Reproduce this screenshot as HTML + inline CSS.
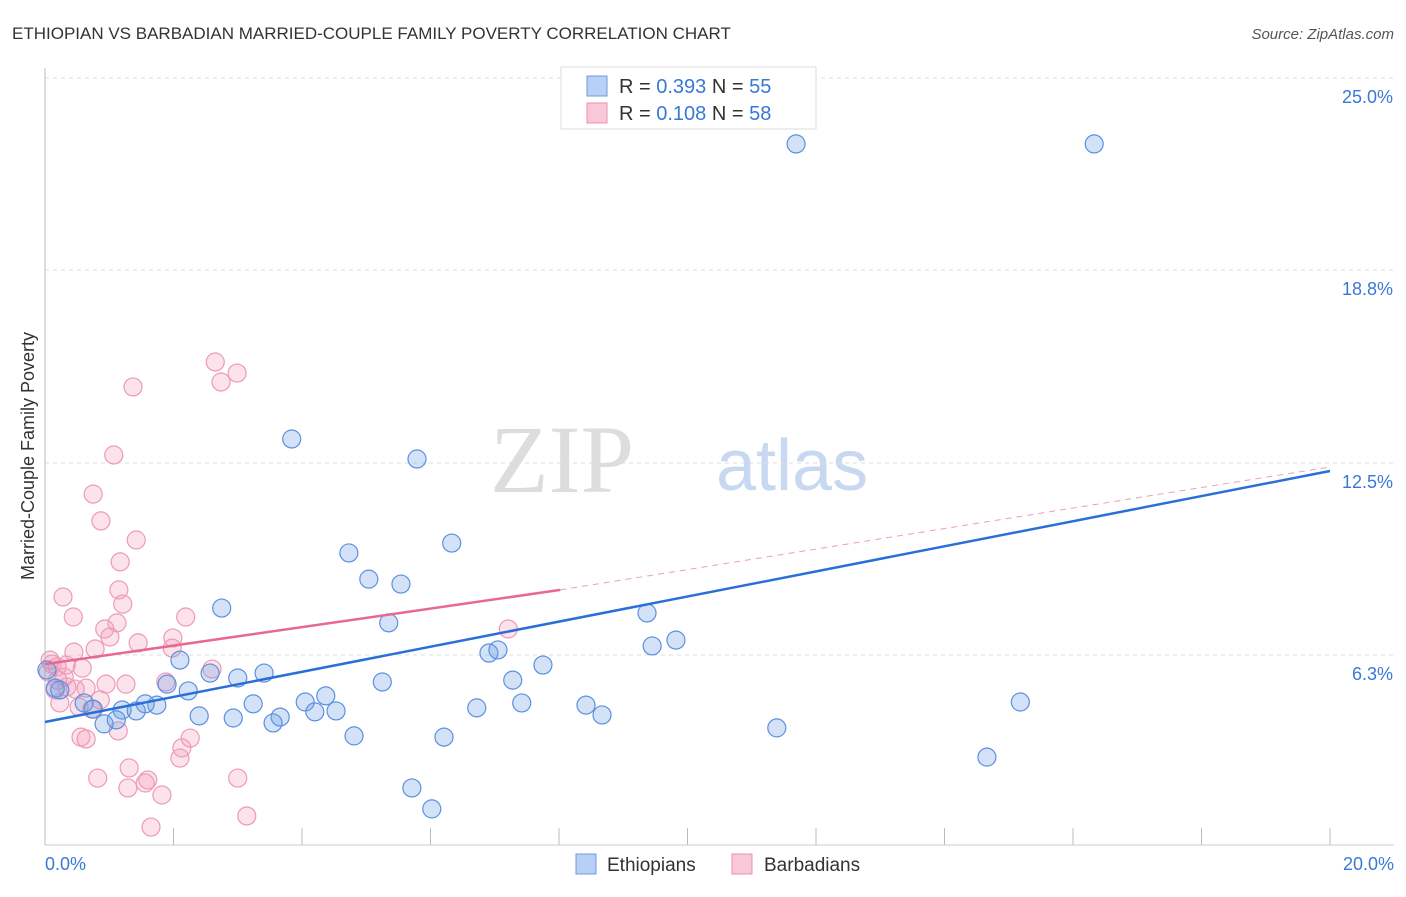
<!DOCTYPE html>
<html><head><meta charset="utf-8"><style>
body{margin:0;background:#fff;font-family:"Liberation Sans",sans-serif;}
svg text{font-family:"Liberation Sans",sans-serif;}
</style></head><body>
<svg id="c" width="1406" height="892">
<text x="12" y="39" font-size="17" fill="#333">ETHIOPIAN VS BARBADIAN MARRIED-COUPLE FAMILY POVERTY CORRELATION CHART</text>
<text x="1394" y="39" font-size="15" fill="#555" font-style="italic" text-anchor="end">Source: ZipAtlas.com</text>
<text x="634" y="492" font-size="96" fill="#ddd" font-family="Liberation Serif" text-anchor="end" style="font-family:'Liberation Serif',serif">ZIP</text>
<text x="716" y="490" font-size="72" fill="#c8d8f0">atlas</text>
<text x="34" y="456" font-size="18" fill="#333" text-anchor="middle" transform="rotate(-90 34 456)">Married-Couple Family Poverty</text>
<g id="grid"></g><g id="axes"></g><g id="pts"></g><g id="lines"></g>
<g>
<rect x="561" y="67" width="255" height="62" fill="#fff" stroke="#ddd"/>
<rect x="587" y="76" width="20" height="20" fill="#b8d0f5" stroke="#6d9be0"/>
<text x="619" y="93" font-size="20" fill="#333">R = <tspan fill="#3a78d6">0.393</tspan>   N = <tspan fill="#3a78d6">55</tspan></text>
<rect x="587" y="103" width="20" height="20" fill="#f8c8d8" stroke="#e890ad"/>
<text x="619" y="120" font-size="20" fill="#333">R = <tspan fill="#3a78d6">0.108</tspan>   N = <tspan fill="#3a78d6">58</tspan></text>
</g>
<g>
<rect x="576" y="854" width="20" height="20" fill="#b8d0f5" stroke="#6d9be0"/>
<text x="607" y="871" font-size="19" fill="#333">Ethiopians</text>
<rect x="732" y="854" width="20" height="20" fill="#f8c8d8" stroke="#e890ad"/>
<text x="764" y="871" font-size="19" fill="#333">Barbadians</text>
</g>
</svg>
<script>
const blueX=[11.69,16.33,3.84,5.79,6.33,4.73,5.04,5.54,2.75,9.37,5.35,9.82,9.45,6.91,7.05,7.75,2.10,3.41,2.57,3.00,1.90,7.28,5.25,2.23,0.16,0.23,4.37,4.05,3.24,1.74,1.56,0.61,0.75,1.20,1.42,4.20,4.53,7.42,8.42,6.72,8.67,15.18,2.40,3.66,2.93,3.55,0.92,1.11,11.39,4.81,6.21,14.66,5.71,6.02,0.03];
const blueY=[22.86,22.86,13.28,12.63,9.90,9.58,8.73,8.57,7.79,7.63,7.31,6.75,6.56,6.33,6.43,5.94,6.10,5.68,5.68,5.52,5.32,5.45,5.39,5.10,5.19,5.13,4.94,4.74,4.68,4.64,4.68,4.71,4.51,4.48,4.45,4.42,4.45,4.71,4.64,4.55,4.32,4.74,4.29,4.25,4.22,4.06,4.03,4.16,3.90,3.64,3.60,2.95,1.95,1.27,5.78];
const pinkX=[2.65,2.99,2.74,1.37,1.07,0.75,0.87,1.42,1.17,0.28,1.15,1.21,0.44,2.19,1.12,0.93,1.01,1.45,1.99,1.98,0.45,0.78,2.60,7.21,0.11,0.19,0.05,0.30,0.58,0.34,0.64,0.47,0.95,1.26,1.88,0.23,0.86,0.73,0.53,1.14,0.56,0.64,2.26,2.13,2.10,0.82,1.31,1.60,1.56,1.29,1.82,3.00,1.65,3.14,0.16,0.08,0.20,0.33];
const pinkY=[15.78,15.42,15.13,14.97,12.76,11.49,10.62,10.00,9.29,8.15,8.38,7.92,7.50,7.50,7.31,7.11,6.85,6.66,6.82,6.49,6.36,6.46,5.81,7.11,5.97,5.88,5.71,5.55,5.84,5.23,5.19,5.16,5.32,5.32,5.39,4.71,4.81,4.51,4.58,3.80,3.60,3.54,3.57,3.25,2.92,2.27,2.60,2.21,2.11,1.95,1.72,2.27,0.68,1.04,5.13,6.10,5.45,5.94];
const yTicks=[25.0,18.8,12.5,6.3];
const yTickLabels=["25.0%","18.8%","12.5%","6.3%"];
const blueTrend=[4.09,12.24];
const pinkTrend=[5.97,8.38,12.37];
const pinkSolidEnd=8.02;
const X=v=>45+v*64.25, Y=v=>848-v*30.8;
const NS="http://www.w3.org/2000/svg";
function mk(tag,parent,attrs){const e=document.createElementNS(NS,tag);for(const k in attrs)e.setAttribute(k,attrs[k]);document.getElementById(parent).appendChild(e);return e;}
yTicks.forEach((t,i)=>{
 const yy=t===25?78:t===18.8?270:t===12.5?463:655;
 const l=mk('line','grid',{x1:45,x2:1394,y1:yy,y2:yy,stroke:'#ddd','stroke-dasharray':'4,4'});
 
 
 const tx=mk('text','grid',{x:1393,y:yy+25,'font-size':18,fill:'#3a78d6','text-anchor':'end'});
 tx.textContent=yTickLabels[i];
 
 
});
let a=mk('line','axes',{x1:45,x2:45,y1:68,y2:845,stroke:'#bbb'});


a=mk('line','axes',{x1:45,x2:1394,y1:845,y2:845,stroke:'#ccc'});


for(let i=0;i<=10;i++){const t=mk('line','axes',{x1:X(i*2),x2:X(i*2),y1:828,y2:845,stroke:'#bbb'});
 
 }
let t0=mk('text','axes',{x:45,y:870,'font-size':18,fill:'#3a78d6'});t0.textContent='0.0%';


let t1=mk('text','axes',{x:1394,y:870,'font-size':18,fill:'#3a78d6','text-anchor':'end'});t1.textContent='20.0%';


pinkX.forEach((x,i)=>{const c=mk('circle','pts',{cx:X(x),cy:Y(pinkY[i]),r:9,fill:'rgba(244,160,190,0.3)',stroke:'#ec9ab6','stroke-width':1.2});
 
 });
blueX.forEach((x,i)=>{const c=mk('circle','pts',{cx:X(x),cy:Y(blueY[i]),r:9,fill:'rgba(110,160,230,0.3)',stroke:'#5b90e0','stroke-width':1.2});
 
 });
let l=mk('line','lines',{x1:X(0),y1:Y(blueTrend[0]),x2:X(20),y2:Y(blueTrend[1]),stroke:'#2a6fd8','stroke-width':2.5});


l=mk('line','lines',{x1:X(0),y1:Y(pinkTrend[0]),x2:X(pinkSolidEnd),y2:Y(pinkTrend[1]),stroke:'#e8688f','stroke-width':2.5});


l=mk('line','lines',{x1:X(pinkSolidEnd),y1:Y(pinkTrend[1]),x2:X(20),y2:Y(pinkTrend[2]),stroke:'#e8a0b8','stroke-width':1,'stroke-dasharray':'6,5'});


</script>
</body></html>
